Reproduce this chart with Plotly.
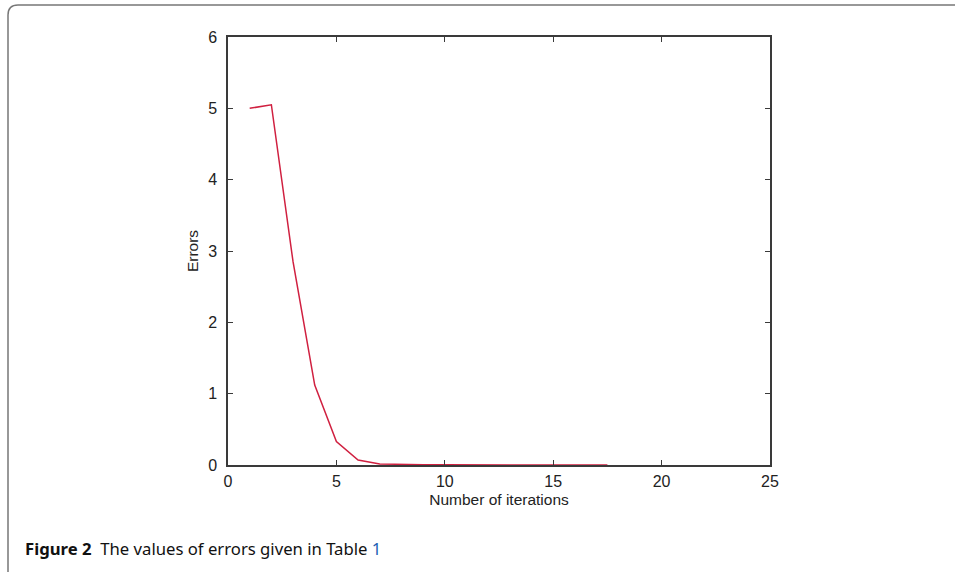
import plotly.graph_objects as go

iterations = [1, 2, 3, 4, 5, 6, 7, 8, 9, 10, 11, 12, 13, 14, 15, 16, 17, 17.5]
errors = [5.0, 5.05, 2.85, 1.12, 0.33, 0.07, 0.015, 0.006, 0.003, 0.002, 0.001, 0.001, 0.001, 0.001, 0.001, 0.001, 0.001, 0.001]
x_ticks = [0, 5, 10, 15, 20, 25]
y_ticks = [0, 1, 2, 3, 4, 5, 6]

W, H = 955, 572
L, R, T, B = 228, 770, 37, 465

def px(x):
    return (x - L) / (R - L)

def py(y):
    return (B - y) / (B - T)

fig = go.Figure()
fig.add_trace(go.Scatter(x=iterations, y=errors, mode="lines",
                         line=dict(color="#d02040", width=1.5), showlegend=False))

axis_common = dict(showgrid=False, zeroline=False, showline=True, linecolor="#3a3a3a",
                   linewidth=1.5, mirror="allticks", ticks="inside", ticklen=5,
                   tickcolor="#3a3a3a", tickwidth=1.2,
                   tickfont=dict(family="Liberation Sans, Arial", size=16, color="#222"))

fig.update_xaxes(range=[0, 25], tickvals=x_ticks, **axis_common,
                 ticklabelstandoff=1,
                 title=dict(text="Number of iterations", standoff=5,
                            font=dict(family="Liberation Sans, Arial", size=15.5, color="#222")))
fig.update_yaxes(range=[0, 6], tickvals=y_ticks, **axis_common,
                 ticklabelstandoff=6,
                 title=dict(text="Errors", standoff=6,
                            font=dict(family="Liberation Sans, Arial", size=15.5, color="#222")))

border_path = (f"M {px(8)},{py(580)} L {px(8)},{py(15)} Q {px(8)},{py(5)} {px(18)},{py(5)} "
               f"L {px(965)},{py(5)}")
fig.add_shape(type="path", path=border_path, xref="paper", yref="paper",
              line=dict(color="#777", width=1.5))

fig.add_annotation(xref="paper", yref="paper", x=px(23), y=py(548), xanchor="left", yanchor="middle",
                   showarrow=False,
                   text="<b>Figure 2</b>  The values of errors given in Table <span style='color:#1a5fb4'>1</span>",
                   font=dict(family="Noto Sans, Open Sans", size=16.7, color="#111"))

fig.update_layout(width=W, height=H, autosize=False,
                  margin=dict(l=L, r=W - R, t=T, b=H - B),
                  paper_bgcolor="white", plot_bgcolor="white")

fig.write_html("out.html", config={"displayModeBar": False},
               post_script="document.body.style.margin='0';document.body.style.overflow='hidden';")
